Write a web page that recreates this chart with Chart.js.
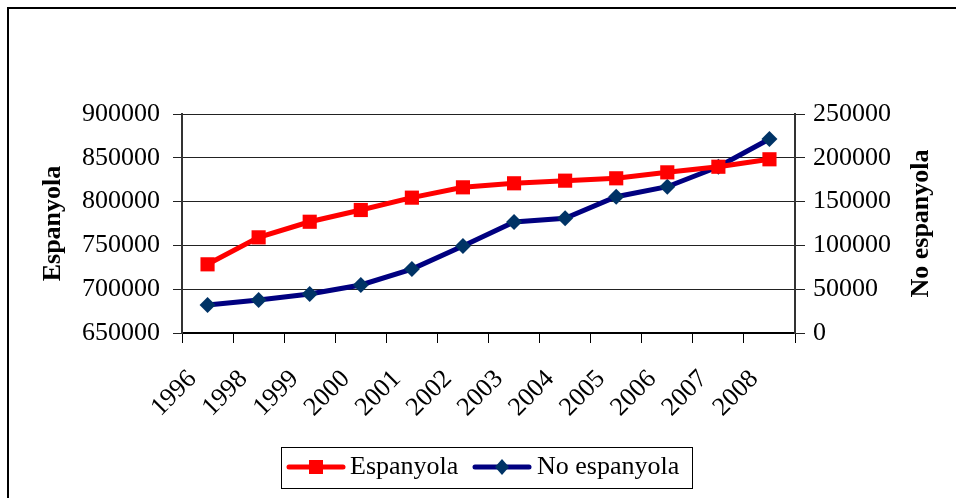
<!DOCTYPE html>
<html>
<head>
<meta charset="utf-8">
<script src="https://cdn.jsdelivr.net/npm/chart.js@4/dist/chart.umd.min.js"></script>
<style>
  html, body { margin: 0; padding: 0; background: #fff; }
  #wrap { position: relative; width: 956px; height: 498px; }
</style>
</head>
<body>
<div id="wrap"><canvas id="c" width="956" height="498"></canvas></div>
<script>
const years = ['1996', '1998', '1999', '2000', '2001', '2002', '2003', '2004', '2005', '2006', '2007', '2008'];
const espanyola = [728400, 759200, 777000, 790400, 804500, 816300, 820900, 823900, 826600, 833400, 839800, 848300];
const noEspanyola = [32000, 37700, 44500, 54800, 73000, 99300, 126700, 131000, 155600, 167000, 189800, 221500];
const leftTicks = [650000, 700000, 750000, 800000, 850000, 900000];
const rightTicks = [0, 50000, 100000, 150000, 200000, 250000];
const seriesNames = ['Espanyola', 'No espanyola'];
const leftTitle = 'Espanyola';
const rightTitle = 'No espanyola';

const FONT = "'Liberation Serif', 'Times New Roman', serif";
const RED = '#FF0000';
const NAVY = '#000080';
const DIAMOND = '#003366';

const decor = {
  id: 'decor',
  beforeDraw(chart) {
    const ctx = chart.ctx;
    ctx.save();
    ctx.fillStyle = '#fff';
    ctx.fillRect(0, 0, chart.width, chart.height);
    ctx.strokeStyle = '#000';
    ctx.lineWidth = 2;
    ctx.strokeRect(8, 8, 980, 520);
    ctx.restore();
  },
  afterDraw(chart) {
    const ctx = chart.ctx;
    const ca = chart.chartArea;
    const cy = (ca.top + ca.bottom) / 2;
    ctx.save();
    ctx.fillStyle = '#000';
    ctx.font = 'bold 26px ' + FONT;
    ctx.textAlign = 'center';
    ctx.textBaseline = 'middle';
    ctx.save();
    ctx.translate(53, cy);
    ctx.rotate(-Math.PI / 2);
    ctx.fillText(leftTitle, 0, 0);
    ctx.restore();
    ctx.save();
    ctx.translate(921, cy);
    ctx.rotate(-Math.PI / 2);
    ctx.fillText(rightTitle, 0, 0);
    ctx.restore();

    // legend
    ctx.strokeStyle = '#000';
    ctx.lineWidth = 1;
    ctx.strokeRect(281.5, 447.5, 411, 41);
    const ly = 467;
    ctx.lineCap = 'round';
    ctx.strokeStyle = RED; ctx.lineWidth = 5;
    ctx.beginPath(); ctx.moveTo(289, ly); ctx.lineTo(343, ly); ctx.stroke();
    ctx.fillStyle = RED;
    ctx.fillRect(309, ly - 7, 14, 14);
    ctx.strokeStyle = NAVY;
    ctx.beginPath(); ctx.moveTo(475, ly); ctx.lineTo(529, ly); ctx.stroke();
    ctx.fillStyle = DIAMOND;
    ctx.beginPath();
    ctx.moveTo(502, ly - 8); ctx.lineTo(509, ly); ctx.lineTo(502, ly + 8); ctx.lineTo(495, ly);
    ctx.closePath(); ctx.fill();
    ctx.fillStyle = '#000';
    ctx.font = '26px ' + FONT;
    ctx.textAlign = 'left';
    ctx.textBaseline = 'middle';
    ctx.fillText(seriesNames[0], 350, ly);
    ctx.fillText(seriesNames[1], 537, ly);
    ctx.restore();
  }
};

new Chart(document.getElementById('c'), {
  type: 'line',
  data: {
    labels: years,
    datasets: [
      {
        label: seriesNames[0],
        data: espanyola,
        yAxisID: 'yL',
        borderColor: RED,
        backgroundColor: RED,
        borderWidth: 5,
        pointStyle: 'rect',
        pointRadius: 10,
        pointBorderWidth: 0,
        pointBackgroundColor: RED,
        tension: 0
      },
      {
        label: seriesNames[1],
        data: noEspanyola,
        yAxisID: 'yR',
        borderColor: NAVY,
        backgroundColor: DIAMOND,
        borderWidth: 5,
        pointStyle: 'rectRot',
        pointRadius: 8,
        pointBorderWidth: 0,
        pointBackgroundColor: DIAMOND,
        tension: 0
      }
    ]
  },
  options: {
    responsive: false,
    animation: false,
    devicePixelRatio: 1,
    layout: { padding: { top: 114, left: 0, right: 0, bottom: 0 } },
    plugins: { legend: { display: false }, tooltip: { enabled: false } },
    scales: {
      x: {
        type: 'category',
        offset: true,
        grid: { display: true, drawOnChartArea: false, drawTicks: true, tickLength: 10, offset: true, color: '#000', lineWidth: 1 },
        border: { display: true, color: '#000', width: 2 },
        ticks: {
          color: '#000',
          font: { family: FONT, size: 26 },
          maxRotation: 45, minRotation: 45,
          autoSkip: false,
          padding: 21,
          labelOffset: -15
        },
        afterFit(s) { s.height = 165; }
      },
      yL: {
        type: 'linear',
        position: 'left',
        min: 650000, max: 900000,
        afterBuildTicks(s) { s.ticks = leftTicks.map(v => ({ value: v })); },
        grid: { display: true, drawOnChartArea: true, drawTicks: true, tickLength: 9, color: '#222', lineWidth: 1 },
        border: { display: true, color: '#333', width: 2 },
        ticks: {
          color: '#000',
          font: { family: FONT, size: 26 },
          padding: 13,
          callback: v => String(v)
        },
        afterFit(s) { s.width = 182; }
      },
      yR: {
        type: 'linear',
        position: 'right',
        min: 0, max: 250000,
        afterBuildTicks(s) { s.ticks = rightTicks.map(v => ({ value: v })); },
        grid: { display: true, drawOnChartArea: false, drawTicks: true, tickLength: 10, color: '#222', lineWidth: 1 },
        border: { display: true, color: '#333', width: 2 },
        ticks: {
          color: '#000',
          font: { family: FONT, size: 26 },
          padding: 8,
          callback: v => String(v)
        },
        afterFit(s) { s.width = 161; }
      }
    }
  },
  plugins: [decor]
});
</script>
</body>
</html>
